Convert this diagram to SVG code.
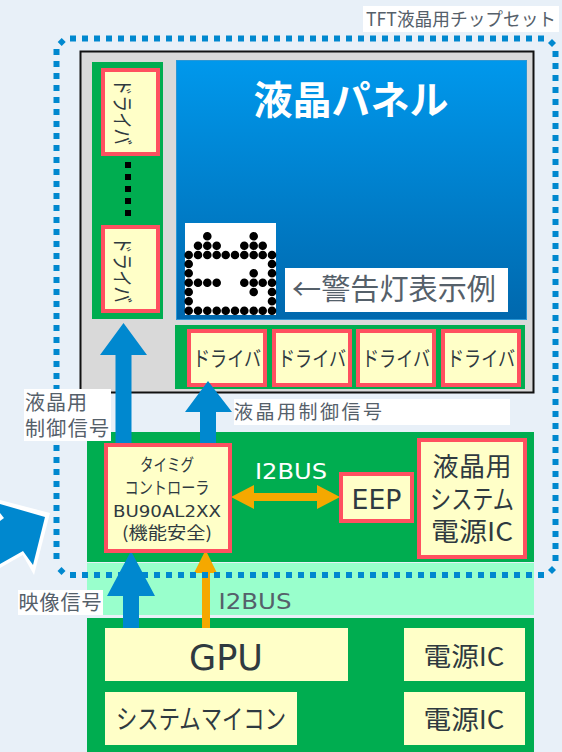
<svg xmlns="http://www.w3.org/2000/svg" width="562" height="752" viewBox="0 0 562 752">
<style>
text{font-family:"Noto Sans CJK JP","DejaVu Sans",sans-serif;fill:#2f3a40;text-anchor:middle}
.l{font-family:"DejaVu Sans","Noto Sans CJK JP",sans-serif}
.g{fill:#00ad50}
.y{fill:#ffffc8}
.r{fill:#ffffc8;stroke:#ff5060;stroke-width:4}
.w{fill:#fff}
.gt{fill:#55606a}
.b{fill:#0088cf}
.o{fill:#f5a800}
.d{fill:none;stroke:#0088cf;stroke-width:6;stroke-dasharray:6 6}
</style>
<defs>
<linearGradient id="pg" x1="0" y1="0" x2="0" y2="1"><stop offset="0" stop-color="#0098ec"/><stop offset="1" stop-color="#0068ad"/></linearGradient>
</defs>
<rect width="562" height="752" fill="#e8f0f8"/>
<g id="lcd-frame"><rect x="80.500" y="51.500" width="453" height="341" fill="#d9d9d9" stroke="#111" stroke-width="2"/></g>
<g id="side-drivers">
<rect class="g" x="92" y="62" width="71" height="257"/>
<rect class="r" x="103" y="70" width="55" height="84"/>
<rect class="r" x="103" y="227" width="55" height="84"/>
<text font-size="21" transform="translate(122 112) rotate(90)" dy="7" textLength="66" lengthAdjust="spacingAndGlyphs">ドライバ</text>
<text font-size="21" transform="translate(122 270) rotate(90)" dy="7" textLength="66" lengthAdjust="spacingAndGlyphs">ドライバ</text>
<path d="M128 162V222" stroke="#000" stroke-width="6" stroke-dasharray="6 6" fill="none"/>
</g>
<g id="panel">
<rect x="176.500" y="60.500" width="350" height="259" fill="url(#pg)" stroke="#2a97d5"/>
<text x="351" y="114" font-size="39" font-weight="700" style="fill:#fff">液晶パネル</text>
</g>
<g id="warning-lamp">
<rect class="w" x="185" y="223" width="91" height="92"/>
<path fill="none" stroke="#000" stroke-width="8.600" stroke-linecap="round" d="M207.300 236.300h0M253.700 236.300h0M198 245.700h0M207.300 245.700h0M216.700 245.700h0M244.300 245.700h0M253.700 245.700h0M262.700 245.700h0M188.700 255h0M198 255h0M207.300 255h0M216.700 255h0M225.700 255h0M235 255h0M244.300 255h0M253.700 255h0M262.700 255h0M272 255h0M188.700 264h0M272 264h0M188.700 273.300h0M253.700 273.300h0M272 273.300h0M188.700 282.700h0M198 282.700h0M207.300 282.700h0M216.700 282.700h0M244.300 282.700h0M253.700 282.700h0M262.700 282.700h0M272 282.700h0M188.700 292h0M253.700 292h0M272 292h0M188.700 301.300h0M272 301.300h0M188.700 310.700h0M198 310.700h0M207.300 310.700h0M216.700 310.700h0M225.700 310.700h0M235 310.700h0M244.300 310.700h0M253.700 310.700h0M262.700 310.700h0M272 310.700h0"/>
</g>
<g id="warning-label">
<rect class="w" x="285" y="268" width="223" height="44"/>
<text class="gt" x="394" y="300" font-size="29" textLength="204" lengthAdjust="spacingAndGlyphs">←警告灯表示例</text>
</g>
<g id="bottom-drivers">
<rect class="g" x="175" y="325" width="350" height="64"/>
<rect class="r" x="189" y="331" width="76" height="54"/>
<rect class="r" x="274" y="331" width="76" height="54"/>
<rect class="r" x="358" y="331" width="76" height="54"/>
<rect class="r" x="443" y="331" width="76" height="54"/>
<text x="227" y="366" font-size="21" textLength="68" lengthAdjust="spacingAndGlyphs">ドライバ</text>
<text x="312" y="366" font-size="21" textLength="68" lengthAdjust="spacingAndGlyphs">ドライバ</text>
<text x="396" y="366" font-size="21" textLength="68" lengthAdjust="spacingAndGlyphs">ドライバ</text>
<text x="481" y="366" font-size="21" textLength="68" lengthAdjust="spacingAndGlyphs">ドライバ</text>
</g>
<g id="control-board">
<rect class="g" x="87" y="432" width="447" height="130"/>
<rect x="87" y="563" width="447" height="52" fill="#99ffcc"/>
<rect class="g" x="87" y="618" width="447" height="134"/>
</g>
<g id="connectors">
<path class="b" d="M123.500 323L147 355H131.500V444H115.500V355H100Z"/>
<path class="b" d="M208 381L232 412H216V444H200V412H185Z"/>
<path class="b" d="M131 551L155 596H139V629H123V596H107Z"/>
<path class="o" d="M205.600 550L217 573H210V629H202V573H194Z"/>
<path class="o" d="M231 497L254 485V493H317V485L340 497L317 509V501H254V509Z"/>
<path d="M0 500L50 513L34 575L22.700 555L0 568Z" fill="#fff"/>
<path class="b" d="M0 504L45 517L33 565L23 551L0 564Z"/>
<path d="M0 513L4 518L0 521Z" fill="#fff"/>
</g>
<g id="chipset-boundary">
<path class="d" d="M70 38.500H546"/>
<path class="d" d="M555.500 51V562"/>
<path class="d" d="M70 575H546"/>
<path class="d" d="M56.500 49V564"/>
<path class="b" d="M61.700 38L65.700 42L61.700 46L57.700 42ZM552 39L556 43L552 47L548 43ZM552 566L556 570L552 574L548 570ZM61.500 567L65.500 571L61.500 575L57.500 571Z"/>
</g>
<g id="chipset-label">
<rect class="w" x="363" y="6" width="196" height="26"/>
<text class="gt" x="461" y="26" font-size="18" textLength="190" lengthAdjust="spacingAndGlyphs">TFT液晶用チップセット</text>
</g>
<g id="signal-label-left">
<rect class="w" x="24" y="389" width="87" height="52"/>
<text class="gt" x="56" y="410" font-size="20" textLength="62">液晶用</text>
<text class="gt" x="67" y="436" font-size="20" textLength="84">制御信号</text>
</g>
<g id="signal-label-right">
<rect class="w" x="234" y="399" width="276" height="26"/>
<text class="gt" x="308" y="419" font-size="19" textLength="148">液晶用制御信号</text>
</g>
<g id="video-label">
<rect class="w" x="18" y="590" width="85" height="25"/>
<text class="gt" x="60" y="610" font-size="20" textLength="83">映像信号</text>
</g>
<g id="timing-controller">
<rect class="r" x="106" y="445" width="124" height="106"/>
<text x="167" y="471" font-size="17" textLength="54" lengthAdjust="spacingAndGlyphs">タイミグ</text>
<text x="167" y="494" font-size="17" textLength="85" lengthAdjust="spacingAndGlyphs">コントローラ</text>
<text class="l" x="167" y="517" font-size="16" textLength="108" lengthAdjust="spacingAndGlyphs">BU90AL2XX</text>
<text x="167" y="539" font-size="17" textLength="90" lengthAdjust="spacingAndGlyphs">(機能安全)</text>
</g>
<g id="i2bus-top-label"><text class="l" x="291" y="479" font-size="22" style="fill:#fff" textLength="72" lengthAdjust="spacingAndGlyphs">I2BUS</text></g>
<g id="i2bus-bottom-label"><text class="l gt" x="255" y="609" font-size="22" textLength="73" lengthAdjust="spacingAndGlyphs">I2BUS</text></g>
<g id="eep">
<rect class="r" x="341" y="474" width="71" height="47"/>
<text class="l" x="376.500" y="509" font-size="26" textLength="50" lengthAdjust="spacingAndGlyphs">EEP</text>
</g>
<g id="lcd-power">
<rect class="r" x="419" y="440" width="106" height="117"/>
<text x="472" y="476" font-size="26" textLength="79">液晶用</text>
<text x="472" y="509" font-size="26" textLength="84" lengthAdjust="spacingAndGlyphs">システム</text>
<text x="472" y="541" font-size="26" textLength="82" lengthAdjust="spacingAndGlyphs">電源IC</text>
</g>
<g id="gpu">
<rect class="y" x="105" y="628" width="243" height="53"/>
<text class="l" x="226" y="670" font-size="36" textLength="74" lengthAdjust="spacingAndGlyphs">GPU</text>
</g>
<g id="system-mcu">
<rect class="y" x="105" y="692" width="192" height="53"/>
<text x="201" y="729" font-size="27" textLength="170" lengthAdjust="spacingAndGlyphs">システムマイコン</text>
</g>
<g id="power-1">
<rect class="y" x="404" y="628" width="121" height="53"/>
<text x="464" y="666" font-size="26" textLength="81" lengthAdjust="spacingAndGlyphs">電源IC</text>
</g>
<g id="power-2">
<rect class="y" x="404" y="692" width="121" height="53"/>
<text x="464" y="729" font-size="26" textLength="81" lengthAdjust="spacingAndGlyphs">電源IC</text>
</g>
</svg>
